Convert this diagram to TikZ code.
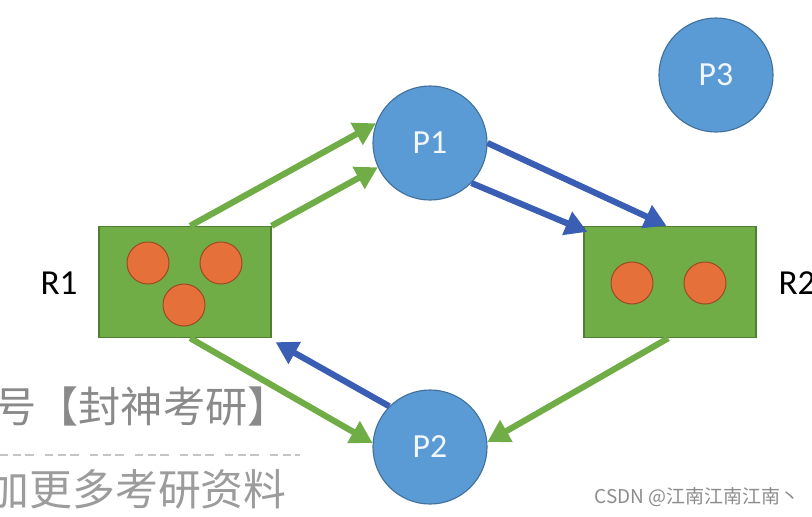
\documentclass[tikz,border=0pt]{standalone}
\usepackage{fontspec}
\setmainfont{Carlito}
\newfontfamily\cjk{Noto Sans CJK SC}
\usetikzlibrary{arrows.meta,calc}

\definecolor{procblue}{HTML}{5B9BD5}
\definecolor{procline}{HTML}{41719C}
\definecolor{resgreen}{HTML}{70AD47}
\definecolor{resline}{HTML}{507E32}
\definecolor{tokred}{HTML}{E5703A}
\definecolor{tokline}{HTML}{9C4A22}
\definecolor{reqblue}{HTML}{3B5EB5}
\definecolor{wmgray}{HTML}{8A8A8A}

\begin{document}
\begin{tikzpicture}[x=0.025cm,y=-0.025cm,
    proc/.style={circle,draw=procline,line width=0.8pt,fill=procblue,
      minimum size=2.85cm,inner sep=0pt,text=white!92!procblue,font=\fontsize{24}{28}\selectfont},
    res/.style={rectangle,draw=resline,line width=0.8pt,fill=resgreen,
      minimum width=4.3cm,minimum height=2.78cm,inner sep=0pt},
    tok/.style={circle,draw=tokline,line width=0.7pt,fill=tokred,
      minimum size=1.05cm,inner sep=0pt},
    give/.style={draw=resgreen,line width=4.4pt,-{Triangle[length=0.55cm,width=0.6cm]}},
    ask/.style={draw=reqblue,line width=4.4pt,-{Triangle[length=0.55cm,width=0.6cm]}},
    reslabel/.style={font=\fontsize{25}{28}\selectfont}]

    \useasboundingbox (0,0) rectangle (812,516);

    % processes
    \node[proc] (P1) at (430,143) {P1};
    \node[proc] (P2) at (430,447) {P2};
    \node[proc] (P3) at (716,75) {P3};

    % resources with their instances
    \node[res] (R1) at (185,282) {};
    \node[tok] (t11) at (148,263) {};
    \node[tok] (t12) at (221,263) {};
    \node[tok] (t13) at (184,305) {};
    \node[reslabel] (l1) at (59,283) {R1};

    \node[res] (R2) at (670,282) {};
    \node[tok] (t21) at (632,283) {};
    \node[tok] (t22) at (705,283) {};
    \node[reslabel] (l2) at (797,283) {R2};

    % assignment edges
    \draw[give] ($(R1.north west)!0.53!(R1.north east)$) -- (P1.160);
    \draw[give] (R1.north east) -- (P1.205);
    \draw[give] ($(R1.south west)!0.53!(R1.south east)$) -- (P2.176);
    \draw[give] ($(R2.south west)!0.49!(R2.south east)$) -- (P2.5);

    % request edges
    \draw[ask] (P1.east) -- ($(R2.north west)!0.48!(R2.north east)$);
    \draw[ask] (P1.-44) -- ($(R2.north west)+(4,6)$);
    \draw[ask] (P2.135) -- ($(R1.south east)+(4,4)$);

    % watermark
    \node[anchor=east,inner sep=0pt,text=wmgray,font=\cjk\fontsize{30}{32}\selectfont]
      (wm1) at (290,406) {号【封神考研】};
    \draw[wmgray!50,line width=1pt,dash pattern=on 6pt off 3pt on 6pt off 3pt on 6pt off 8pt] (0,455) -- (300,455);
    \node[anchor=east,inner sep=0pt,text=wmgray!85,font=\cjk\fontsize{30.5}{32}\selectfont]
      (wm2) at (287,489) {加更多考研资料};
    \node[anchor=east,inner sep=0pt,text=gray!90,font=\cjk\fontsize{13.5}{15}\selectfont]
      (csdn) at (800,497) {CSDN @江南江南江南丶};

\end{tikzpicture}
\end{document}
